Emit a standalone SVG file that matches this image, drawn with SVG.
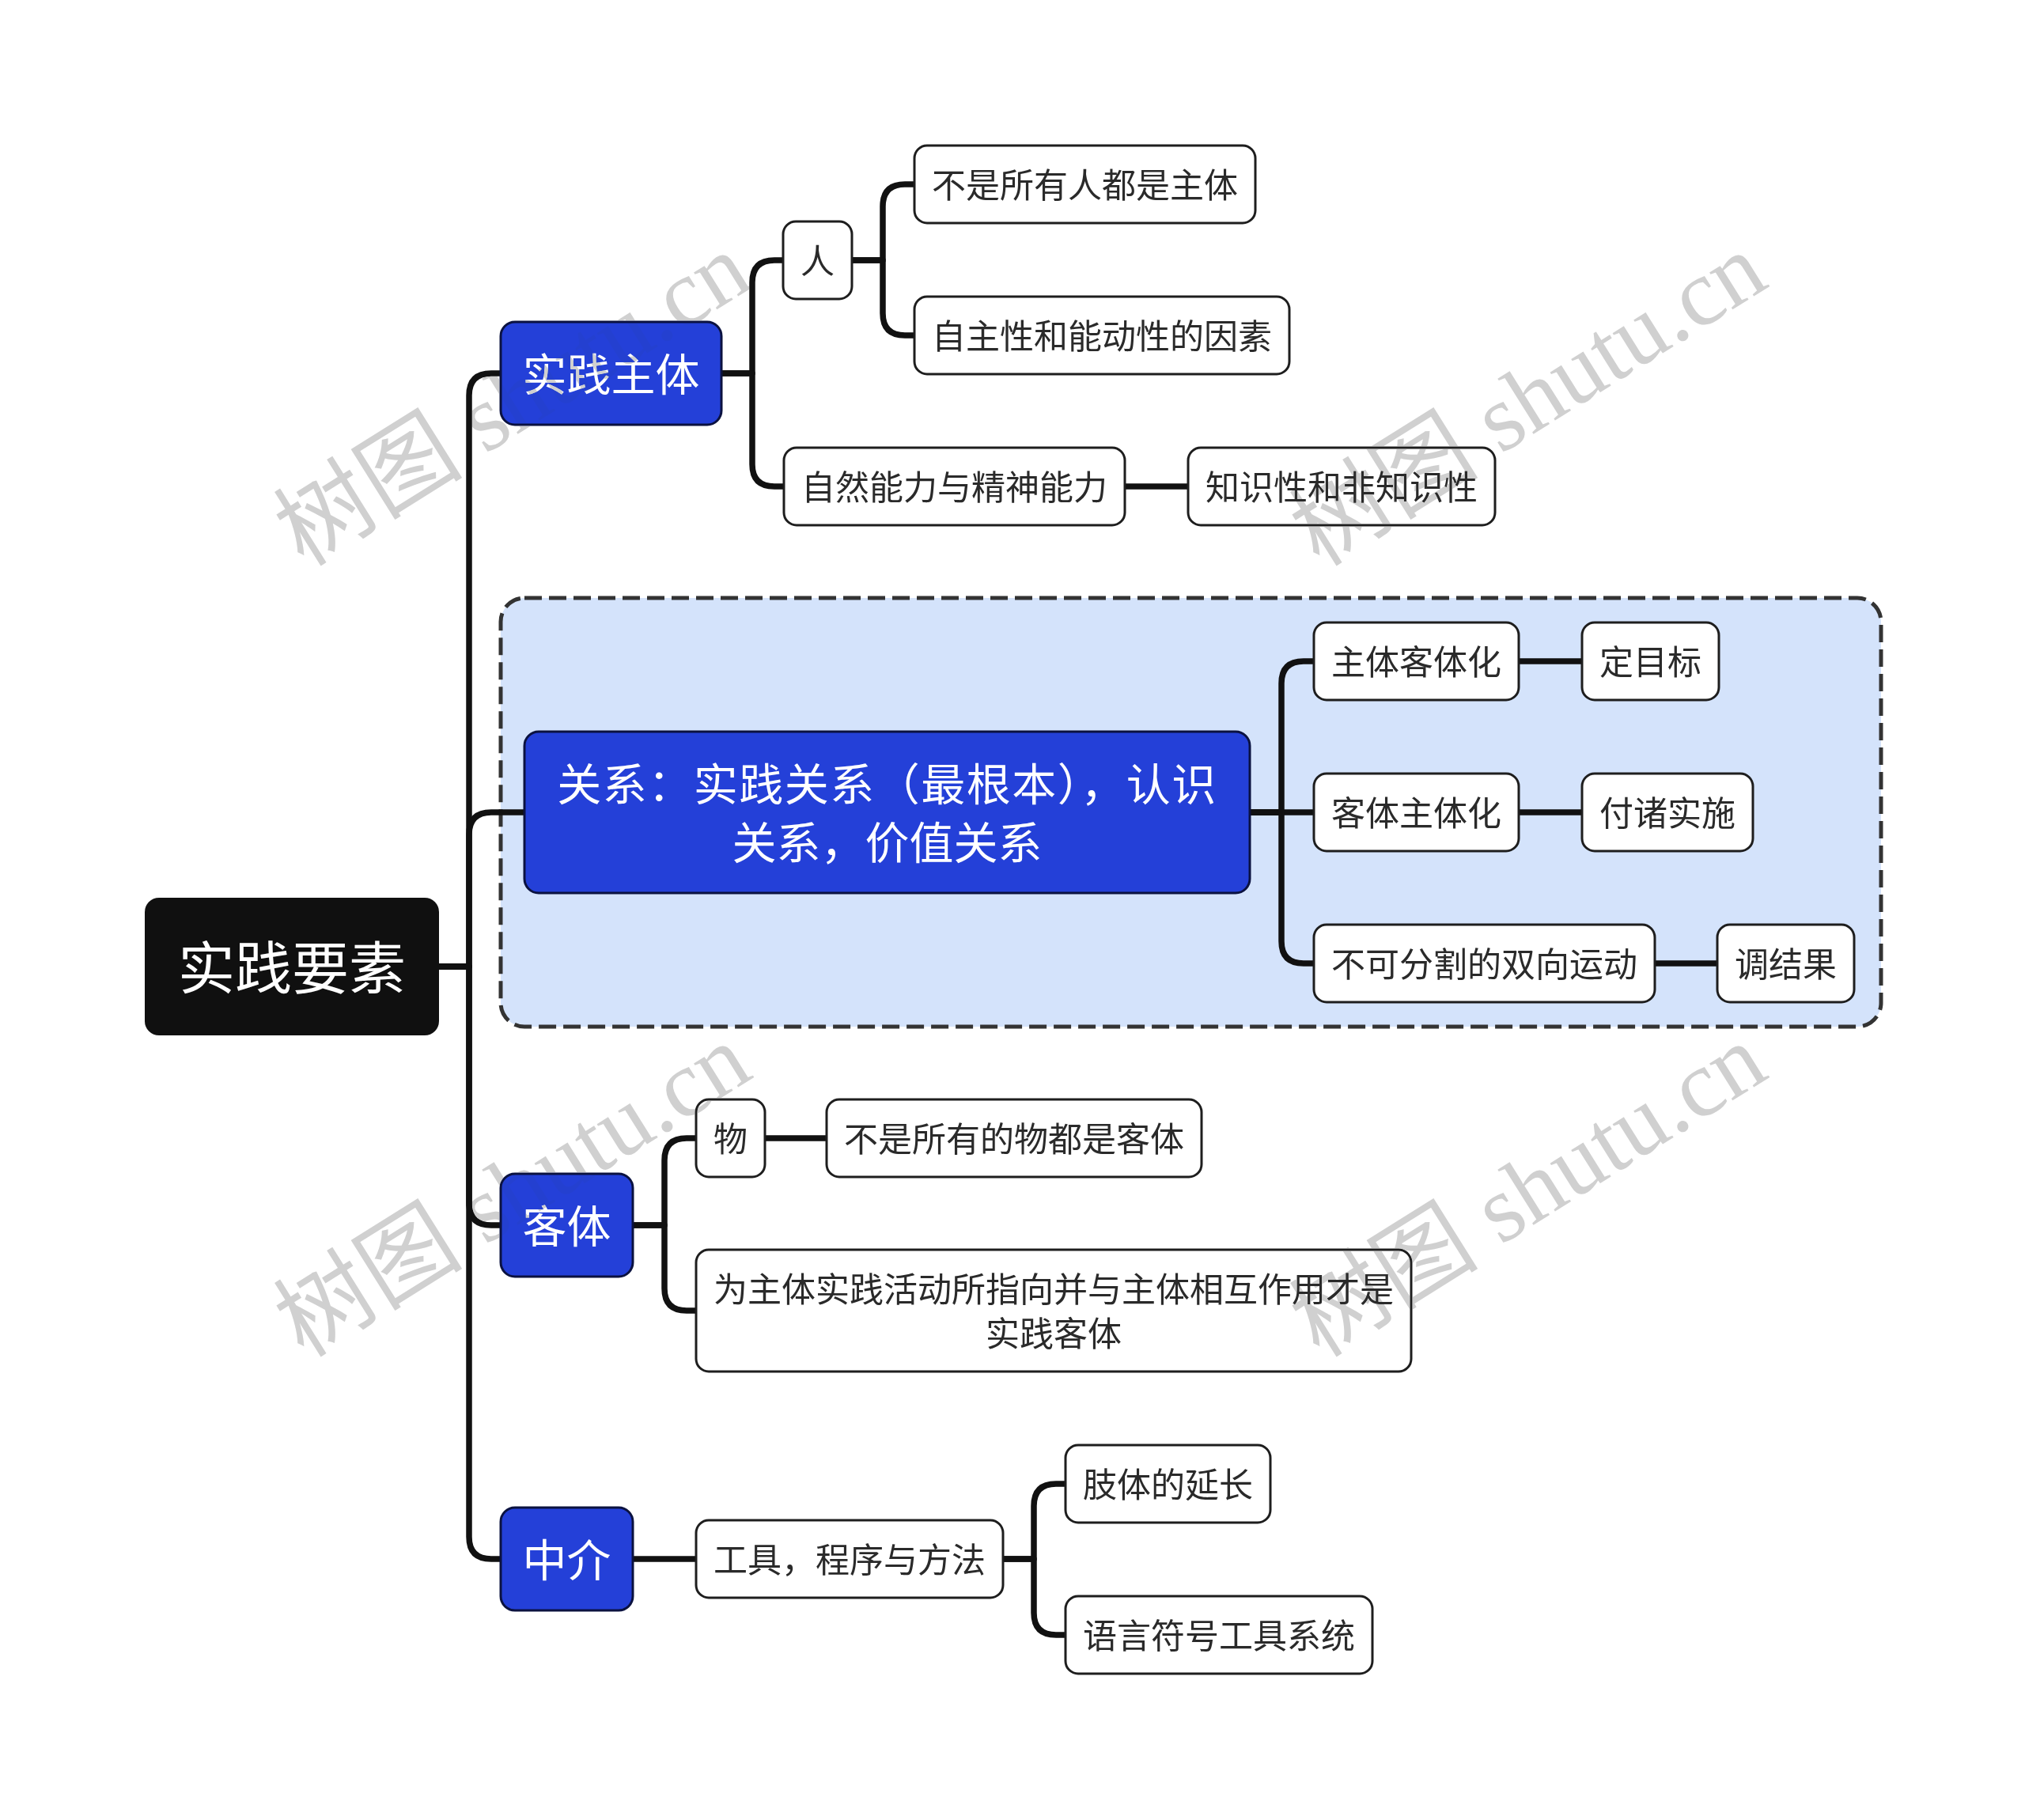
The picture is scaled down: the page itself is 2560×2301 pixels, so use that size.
<svg xmlns="http://www.w3.org/2000/svg" width="2560" height="2301" viewBox="0 0 2560 2301">
<style>
.n rect{fill:#ffffff;stroke:#1e1e1e;stroke-width:3}
.n text{fill:#2a2a2a;font-size:43px}
.b rect{fill:#2440d8;stroke:#0b1240;stroke-width:3}
.b text{fill:#ffffff;font-size:56px}
.r rect{fill:#101010}
.r text{fill:#ffffff;font-size:72px}
text{font-family:"Noto Sans CJK SC","Noto Sans",sans-serif;text-anchor:middle;dominant-baseline:central}
#connectors path{fill:none;stroke:#111111;stroke-width:7.5;stroke-linejoin:round}
.wm{font-family:"Liberation Serif","Noto Sans CJK SC",serif;font-size:120px;fill:#d0d0d0;mix-blend-mode:darken}
</style>
<rect width="2560" height="2301" fill="#ffffff"/>
<g id="group-relation-bg">
<rect x="633" y="756" width="1745" height="542" rx="30" fill="#d4e3fb" stroke="#333333" stroke-width="5" stroke-dasharray="22 9"/>
</g>
<g id="connectors">
<path d="M555,1222 H593 V500 Q593,472 621,472 H633"/>
<path d="M555,1222 H593 V1055 Q593,1027 621,1027 H663"/>
<path d="M555,1222 H593 V1521 Q593,1549 621,1549 H633"/>
<path d="M555,1222 H593 V1943 Q593,1971 621,1971 H633"/>
<path d="M912,472 H951 V357 Q951,329 979,329 H990"/>
<path d="M912,472 H951 V587 Q951,615 979,615 H991"/>
<path d="M1077,329 H1116 V261 Q1116,233 1144,233 H1156"/>
<path d="M1077,329 H1116 V396 Q1116,424 1144,424 H1156"/>
<path d="M1422,615 H1502"/>
<path d="M1580,1027 H1620 V864 Q1620,836 1648,836 H1661"/>
<path d="M1580,1027 H1661"/>
<path d="M1580,1027 H1620 V1190 Q1620,1218 1648,1218 H1661"/>
<path d="M1920,836 H2000"/>
<path d="M1920,1027 H2000"/>
<path d="M2092,1218 H2171"/>
<path d="M800,1549 H840 V1467 Q840,1439 868,1439 H880"/>
<path d="M800,1549 H840 V1629 Q840,1657 868,1657 H880"/>
<path d="M967,1439 H1045"/>
<path d="M800,1971 H880"/>
<path d="M1268,1971 H1307 V1904 Q1307,1876 1335,1876 H1347"/>
<path d="M1268,1971 H1307 V2039 Q1307,2067 1335,2067 H1347"/>
</g>
<g id="root" class="r"><rect x="183" y="1135" width="372" height="174" rx="18"/><text x="369" y="1222" dy="-4">实践要素</text></g>
<g id="n-subject" class="b"><rect x="633" y="407" width="279" height="130" rx="18"/><text x="772.5" y="472" dy="-3">实践主体</text></g>
<g id="n-person" class="n"><rect x="990" y="280" width="87" height="98" rx="16"/><text x="1033.5" y="329" dy="-2">人</text></g>
<g id="n-notall" class="n"><rect x="1156" y="184" width="431" height="98" rx="16"/><text x="1371.5" y="233" dy="-2">不是所有人都是主体</text></g>
<g id="n-auto" class="n"><rect x="1156" y="375" width="474" height="98" rx="16"/><text x="1393" y="424" dy="-2">自主性和能动性的因素</text></g>
<g id="n-ability" class="n"><rect x="991" y="566" width="431" height="98" rx="16"/><text x="1206.5" y="615" dy="-2">自然能力与精神能力</text></g>
<g id="n-knowledge" class="n"><rect x="1502" y="566" width="388" height="98" rx="16"/><text x="1696" y="615" dy="-2">知识性和非知识性</text></g>
<g id="n-relation" class="b"><rect x="663" y="925" width="917" height="204" rx="18"/><text x="1121.5" y="987" letter-spacing="1.5">关系：实践关系（最根本），认识</text><text x="1121.5" y="1061">关系，价值关系</text></g>
<g id="n-s2o" class="n"><rect x="1661" y="787" width="259" height="98" rx="16"/><text x="1790.5" y="836" dy="-2">主体客体化</text></g>
<g id="n-goal" class="n"><rect x="2000" y="787" width="173" height="98" rx="16"/><text x="2086.5" y="836" dy="-2">定目标</text></g>
<g id="n-o2s" class="n"><rect x="1661" y="978" width="259" height="98" rx="16"/><text x="1790.5" y="1027" dy="-2">客体主体化</text></g>
<g id="n-implement" class="n"><rect x="2000" y="978" width="216" height="98" rx="16"/><text x="2108" y="1027" dy="-2">付诸实施</text></g>
<g id="n-twoway" class="n"><rect x="1661" y="1169" width="431" height="98" rx="16"/><text x="1876.5" y="1218" dy="-2">不可分割的双向运动</text></g>
<g id="n-adjust" class="n"><rect x="2171" y="1169" width="173" height="98" rx="16"/><text x="2257.5" y="1218" dy="-2">调结果</text></g>
<g id="n-object" class="b"><rect x="633" y="1484" width="167" height="130" rx="18"/><text x="716.5" y="1549" dy="-3">客体</text></g>
<g id="n-thing" class="n"><rect x="880" y="1390" width="87" height="98" rx="16"/><text x="923.5" y="1439" dy="-2">物</text></g>
<g id="n-notallthing" class="n"><rect x="1045" y="1390" width="474" height="98" rx="16"/><text x="1282" y="1439" dy="-2">不是所有的物都是客体</text></g>
<g id="n-objdef" class="n"><rect x="880" y="1580" width="904" height="154" rx="16"/><text x="1332" y="1627">为主体实践活动所指向并与主体相互作用才是</text><text x="1332" y="1683">实践客体</text></g>
<g id="n-medium" class="b"><rect x="633" y="1906" width="167" height="130" rx="18"/><text x="716.5" y="1971" dy="-3">中介</text></g>
<g id="n-tools" class="n"><rect x="880" y="1922" width="388" height="98" rx="16"/><text x="1074" y="1971" dy="-2">工具，程序与方法</text></g>
<g id="n-limb" class="n"><rect x="1347" y="1827" width="259" height="98" rx="16"/><text x="1476.5" y="1876" dy="-2">肢体的延长</text></g>
<g id="n-lang" class="n"><rect x="1347" y="2018" width="388" height="98" rx="16"/><text x="1541" y="2067" dy="-2">语言符号工具系统</text></g>
<g id="watermarks">
<text class="wm" transform="translate(648,505) rotate(-32)">树图 shutu.cn</text>
<text class="wm" transform="translate(1932,505) rotate(-32)">树图 shutu.cn</text>
<text class="wm" transform="translate(648,1505) rotate(-32)">树图 shutu.cn</text>
<text class="wm" transform="translate(1932,1505) rotate(-32)">树图 shutu.cn</text>
</g>
</svg>
